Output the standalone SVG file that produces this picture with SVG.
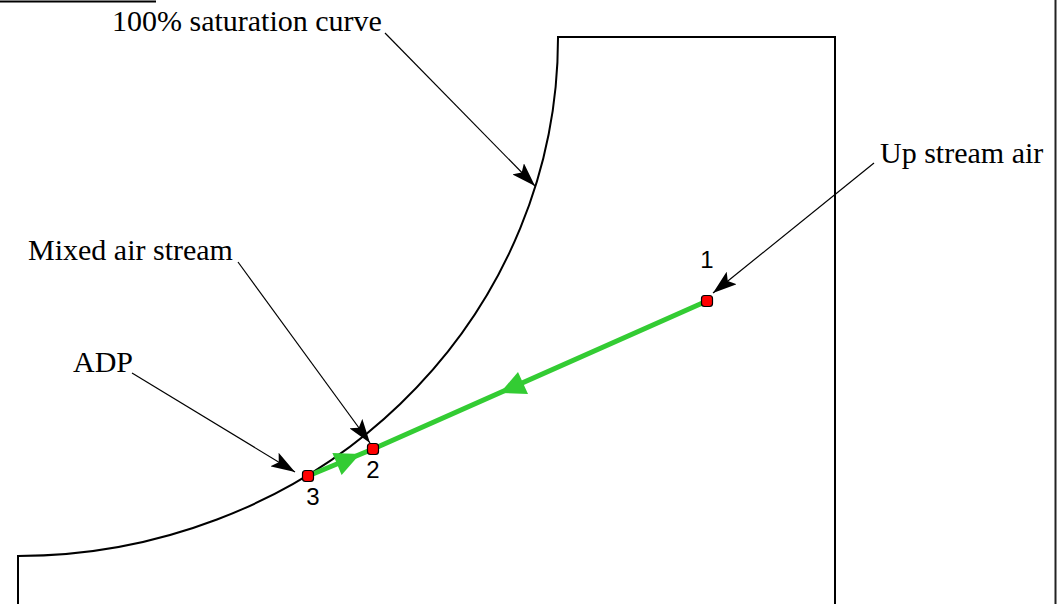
<svg xmlns="http://www.w3.org/2000/svg" width="1062" height="604" viewBox="0 0 1062 604">
<style>
.lbl{font-family:"Liberation Serif","Times New Roman",serif;font-size:30px;fill:#000}
.num{font-family:"Liberation Sans",Arial,sans-serif;font-size:24px;fill:#000;text-anchor:middle}
.pt{fill:#ff0000;stroke:#000;stroke-width:1.2}
.lead{fill:none;stroke:#000;stroke-width:1.2;marker-end:url(#ah)}
.flow{fill:none;stroke:#33cc33;stroke-width:5;stroke-linecap:round}
.gh{fill:#33cc33}
.frame{fill:none;stroke:#000;stroke-width:2}
</style>
<defs>
<marker id="ah" viewBox="0 0 24 16" refX="24" refY="8" markerWidth="24" markerHeight="16" markerUnits="userSpaceOnUse" orient="auto">
<path d="M0,0 L24,8 L0,16 L5,8 z" fill="#000"/>
</marker>
</defs>
<rect width="1062" height="604" fill="#fff"/>
<g id="chart">
<path class="frame" d="M18,604 V556 A540,518 0 0 0 558,37 H835 V604"/>
<line x1="0" y1="1.5" x2="156" y2="1.5" stroke="#000" stroke-width="2"/>
<line x1="1055.5" y1="0" x2="1055.5" y2="604" stroke="#222" stroke-width="2"/>
</g>
<g id="connectors">
<line class="flow" x1="707" y1="301" x2="373" y2="449"/>
<line class="flow" x1="308" y1="476" x2="373" y2="449"/>
<polygon class="gh" points="500,393 528,394 518,372"/>
<polygon class="gh" points="360,454 341.6,475 332.4,453"/>
<line class="lead" x1="385" y1="33" x2="535" y2="186"/>
<line class="lead" x1="874" y1="163" x2="713" y2="293"/>
<line class="lead" x1="238" y1="262" x2="370" y2="443"/>
<line class="lead" x1="132" y1="373" x2="295" y2="472"/>
</g>
<g id="label-saturation"><text class="lbl" x="112" y="31">100% saturation curve</text></g>
<g id="label-upstream"><text class="lbl" x="880" y="163">Up stream air</text></g>
<g id="label-mixed"><text class="lbl" x="28" y="260">Mixed air stream</text></g>
<g id="label-adp"><text class="lbl" x="73" y="372">ADP</text></g>
<g id="point-1"><rect class="pt" x="701.5" y="295.5" width="11" height="11" rx="3"/><text class="num" x="707" y="268">1</text></g>
<g id="point-2"><rect class="pt" x="367.5" y="443.5" width="11" height="11" rx="3"/><text class="num" x="373" y="478">2</text></g>
<g id="point-3"><rect class="pt" x="302.5" y="470.5" width="11" height="11" rx="3"/><text class="num" x="313" y="505">3</text></g>
</svg>
